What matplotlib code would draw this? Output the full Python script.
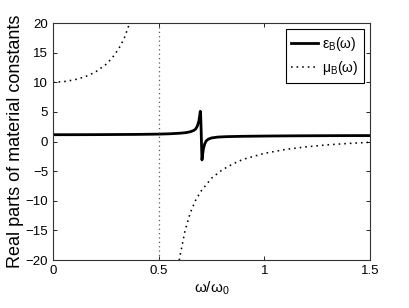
import matplotlib
matplotlib.use('Agg')
import matplotlib.pyplot as plt

plt.rcParams['font.family'] = ['Liberation Sans', 'DejaVu Sans']
plt.rcParams['mathtext.fontset'] = 'custom'
plt.rcParams['mathtext.rm'] = 'Liberation Sans'
plt.rcParams['mathtext.it'] = 'Liberation Sans'

# epsilon_B(omega)
w_eps = [0, 0.1, 0.2, 0.3, 0.4, 0.5, 0.55, 0.6, 0.63, 0.65, 0.665, 0.675, 0.683, 0.69, 0.694,
         0.697, 0.699, 0.701, 0.703, 0.705, 0.708, 0.712, 0.718, 0.725, 0.735, 0.75, 0.78,
         0.82, 0.9, 1.0, 1.1, 1.2, 1.35, 1.5]
eps = [1.15, 1.15, 1.16, 1.18, 1.2, 1.25, 1.3, 1.4, 1.5, 1.65, 1.85, 2.1, 2.6, 3.4, 4.3,
       5.1, 4.2, 2.0, -0.8, -3.1, -2.2, -1.2, -0.4, 0.1, 0.4, 0.6, 0.75,
       0.82, 0.88, 0.92, 0.95, 0.97, 0.99, 1.0]

# mu_B(omega), upper branch
w_mu1 = [0, 0.05, 0.1, 0.15, 0.2, 0.25, 0.28, 0.3, 0.32, 0.34, 0.36, 0.375]
mu1 = [10.0, 10.1, 10.4, 10.9, 11.7, 13.0, 14.1, 15.1, 16.2, 17.7, 19.7, 21.6]

# mu_B(omega), lower branch
w_mu2 = [0.59, 0.6, 0.625, 0.65, 0.675, 0.7, 0.75, 0.8, 0.85, 0.9, 1.0, 1.1, 1.2, 1.3, 1.4, 1.5]
mu2 = [-21.9, -19.5, -15.0, -12.0, -9.9, -8.4, -6.2, -4.8, -3.8, -3.0, -2.0, -1.34, -0.89,
       -0.56, -0.32, -0.13]

fig = plt.figure(figsize=(4.09, 3.08), dpi=100)
ax = fig.add_axes([0.1296, 0.1558, 0.775, 0.7695])

dots = (0, (1, 2.5))
ax.plot(w_eps, eps, color='black', lw=2.0, label='ε$_{\\mathrm{B}}$(ω)')
ax.plot(w_mu1, mu1, color='black', lw=1.15, ls=dots, label='μ$_{\\mathrm{B}}$(ω)')
ax.plot(w_mu2, mu2, color='black', lw=1.15, ls=dots)
ax.axvline(0.5, color='0.35', lw=0.9, ls=(0, (1, 2.5)))

ax.set_xlim(0, 1.5)
ax.set_ylim(-20, 20)
ax.set_xticks([0, 0.5, 1, 1.5])
ax.set_xticklabels(['0', '0.5', '1', '1.5'])
ax.set_yticks(range(-20, 21, 5))
ax.tick_params(direction='in', top=True, right=True, labelsize=9.5, length=3, width=0.6)
for s in ax.spines.values():
    s.set_linewidth(0.8)
    s.set_color('0.2')

ax.set_xlabel('ω/ω$_{\\mathrm{0}}$', fontsize=11, labelpad=2)
ax.set_ylabel('Real parts of material constants', fontsize=13, labelpad=1)

leg = ax.legend(loc='upper right', fontsize=10, fancybox=False, framealpha=1,
                edgecolor='black', handlelength=1.9, borderaxespad=0.45, handletextpad=0.3,
                borderpad=0.4, labelspacing=0.45)
leg.get_frame().set_linewidth(0.8)

fig.savefig('out.png', dpi=100)
